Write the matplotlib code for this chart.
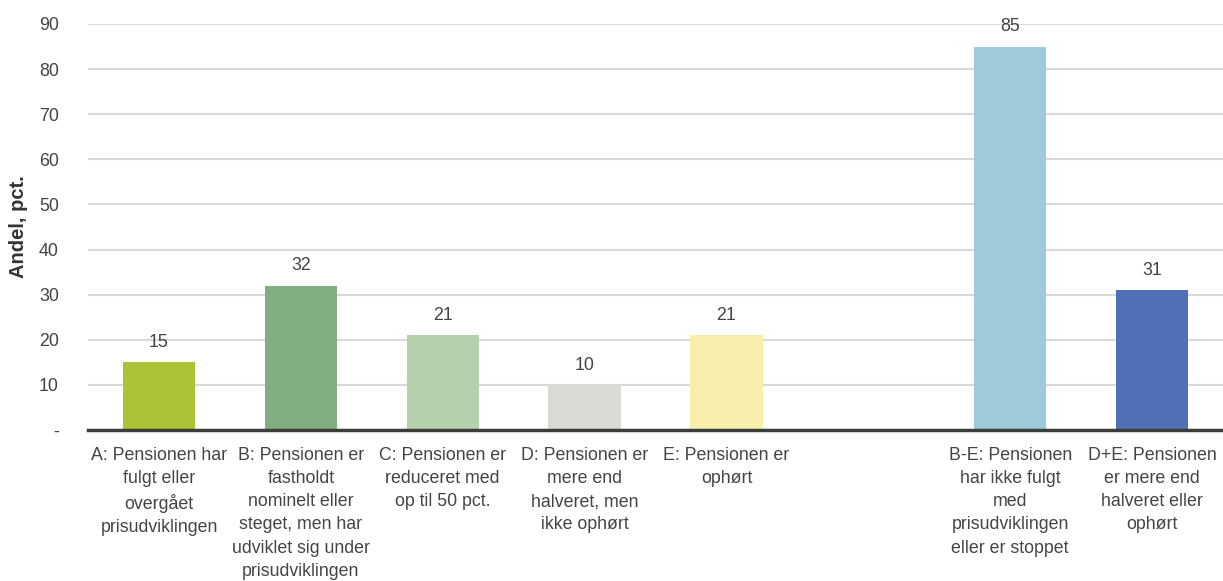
import numpy as np
import matplotlib
matplotlib.use("Agg")
import matplotlib.pyplot as plt

plt.rcParams["font.family"] = ["Liberation Sans", "DejaVu Sans"]

CATEGORIES = [
    "A: Pensionen har\nfulgt eller\novergået\nprisudviklingen",
    "B: Pensionen er\nfastholdt\nnominelt eller\nsteget, men har\nudviklet sig under\nprisudviklingen",
    "C: Pensionen er\nreduceret med\nop til 50 pct.",
    "D: Pensionen er\nmere end\nhalveret, men\nikke ophørt",
    "E: Pensionen er\nophørt",
    "",
    "B-E: Pensionen\nhar ikke fulgt\nmed\nprisudviklingen\neller er stoppet",
    "D+E: Pensionen\ner mere end\nhalveret eller\nophørt",
]
VALUES = [15, 32, 21, 10, 21, None, 85, 31]
COLORS = ["#adc236", "#80ae80", "#b6d0ae", "#d9dad5", "#f7efab", "white", "#9dcbd9", "#4f70b5"]
YTICKS = [0, 10, 20, 30, 40, 50, 60, 70, 80, 90]
YTICK_LABELS = ["-", "10", "20", "30", "40", "50", "60", "70", "80", "90"]

TEXT = "#444444"
FS = 12.8

fig = plt.figure(figsize=(12.23, 5.81), dpi=100)
ax = fig.add_axes([0.072, 0.26, 0.928, 0.6987])

x = np.arange(len(CATEGORIES))
for xi, v, c in zip(x, VALUES, COLORS):
    if v is None:
        continue
    ax.bar(xi, v, width=0.51, color=c, zorder=3)
    ax.annotate(f"{v}", (xi, v), xytext=(0, 8), textcoords="offset points",
                ha="center", va="bottom", fontsize=FS, color=TEXT)

ax.set_xlim(-0.5, 7.5)
ax.set_ylim(0, 90)
ax.set_yticks(YTICKS)
ax.set_yticklabels(YTICK_LABELS, fontsize=FS, color=TEXT)
ax.set_xticks(x)
ax.set_xticklabels(CATEGORIES, fontsize=FS, color=TEXT, linespacing=1.48, va="top")
ax.tick_params(axis="both", length=0)
ax.tick_params(axis="y", pad=21)
ax.tick_params(axis="x", pad=12)

ax.grid(axis="y", color="#d9d9d9", lw=1.5, zorder=0)
ax.set_axisbelow(True)
for s in ["top", "right", "left"]:
    ax.spines[s].set_visible(False)
ax.spines["bottom"].set_color("#3a3d3a")
ax.spines["bottom"].set_linewidth(2.5)
ax.spines["bottom"].set_zorder(4)

ax.set_ylabel("Andel, pct.", fontsize=14.5, fontweight="bold", color="#333333", labelpad=8)

fig.savefig("out.png", dpi=100)
